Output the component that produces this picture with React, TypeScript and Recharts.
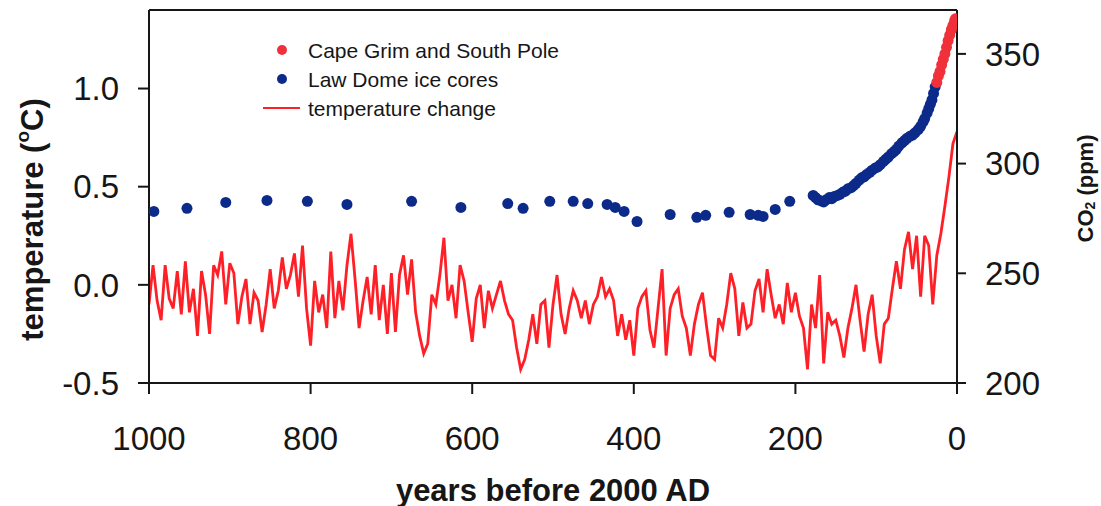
import React from "react";
import { ComposedChart, Line, Scatter, XAxis, YAxis, ReferenceLine, Legend, Label } from "recharts";

// temperature reconstruction, one value every 5 years from 1000 to 0 years before 2000 AD
const TEMP_START = 1000;
const TEMP_STEP = 5;
const tempValues = [
  -0.10, 0.10, -0.08, -0.18, 0.10, -0.07, -0.12, 0.07, -0.15, 0.12,
  -0.14, -0.02, -0.26, 0.07, -0.05, -0.25, 0.10, 0.05, 0.17, -0.10,
  0.11, 0.06, -0.20, -0.06, 0.03, -0.20, -0.04, -0.08, -0.24, -0.10,
  0.08, -0.12, -0.03, 0.14, -0.02, 0.05, 0.16, -0.06, 0.20, -0.12,
  -0.31, 0.02, -0.14, -0.05, -0.22, 0.17, -0.17, 0.02, -0.13, 0.10,
  0.26, 0.03, -0.22, -0.08, 0.04, -0.15, 0.10, -0.18, 0.00, -0.25,
  0.06, -0.24, 0.05, 0.15, -0.05, 0.13, -0.14, -0.26, -0.35, -0.30,
  -0.05, -0.10, 0.05, 0.24, -0.08, 0.00, -0.17, 0.10, 0.02, -0.14,
  -0.29, -0.07, 0.00, -0.22, -0.03, -0.12, -0.05, 0.02, -0.08, -0.15,
  -0.18, -0.32, -0.43, -0.38, -0.28, -0.15, -0.30, -0.10, -0.08, -0.32,
  -0.10, 0.05, -0.15, -0.25, -0.12, -0.03, -0.08, -0.17, -0.08, -0.20,
  -0.10, -0.06, 0.04, -0.06, -0.02, -0.08, -0.26, -0.15, -0.28, -0.18,
  -0.36, -0.12, -0.06, -0.03, -0.23, -0.32, -0.12, 0.08, -0.36, -0.12,
  -0.05, -0.02, -0.16, -0.22, -0.36, -0.20, -0.10, -0.04, -0.21, -0.36,
  -0.38, -0.17, -0.22, -0.10, 0.06, -0.02, -0.26, -0.09, -0.22, -0.20,
  -0.03, 0.03, -0.14, 0.08, -0.05, -0.17, -0.10, -0.20, 0.01, -0.14,
  -0.04, -0.16, -0.22, -0.43, -0.10, -0.22, 0.05, -0.40, -0.14, -0.20,
  -0.18, -0.26, -0.37, -0.22, -0.12, 0.00, -0.18, -0.34, -0.15, -0.05,
  -0.26, -0.40, -0.20, -0.17, -0.02, 0.12, -0.02, 0.18, 0.27, 0.08,
  0.25, -0.06, 0.25, 0.20, -0.10, 0.15, 0.26, 0.40, 0.55, 0.72,
  0.78,
];

// Law Dome ice cores
const lawDomeYears = [
  994, 953, 905, 854, 804, 755, 675, 614, 556, 537, 504, 475, 457, 433, 423, 412, 396,
  355, 322, 311, 282, 256, 246, 240, 225, 207,
  178, 175, 172, 168, 165, 162, 158, 155, 152, 148, 145, 141, 138, 135, 131, 128, 125,
  121, 118, 115, 112, 108, 105, 101, 98, 95, 91, 88, 85, 81, 78, 75, 72, 68, 65, 62,
  58, 55, 52, 48, 45, 42, 40, 37, 35, 33, 31, 29, 27,
];
const lawDomeCo2 = [
  278.2, 279.6, 282.3, 283.2, 282.8, 281.4, 282.8, 280.0, 281.8, 279.6, 282.8, 282.8, 281.8, 281.4, 280.0, 278.2, 273.6,
  276.8, 275.5, 276.4, 277.8, 276.8, 276.4, 275.9, 279.1, 282.8,
  285.5, 284.5, 283.5, 283, 282.5, 283.5, 284.5, 284, 285, 285.5, 286, 287, 287.5, 288.5, 289, 290, 291,
  292.5, 293.5, 294, 295, 296, 297, 298, 298.5, 299.5, 301, 302, 303, 304.5, 305.5, 306.5, 308, 309.5, 310.5, 311.5,
  312.5, 313, 314, 315.5, 317, 319, 320.5, 323, 325, 327, 329, 332, 335,
];

// Cape Grim and South Pole
const capeGrimYears = [25, 23, 21, 19, 17, 15, 13, 11, 9, 7, 5, 3, 2];
const capeGrimCo2 = [337, 340, 342, 345, 347.5, 350, 353, 356, 358.5, 361, 363, 365, 366];

const xTicks = [1000, 800, 600, 400, 200, 0];
const tempTicks = [-0.5, 0, 0.5, 1.0];
const co2Ticks = [200, 250, 300, 350];
const TEMP_MIN = -0.5;
const TEMP_MAX = 1.4;

const FONT = "'Liberation Sans', Arial, Helvetica, sans-serif";
const RED = "#ff1f26";
const DOT_RED = "#f0303a";
const BLUE = "#0c2a8a";
const INK = "#161616";

const tempData = tempValues.map((t, i) => ({ year: TEMP_START - i * TEMP_STEP, temp: t }));
const lawDomeData = lawDomeYears.map((y, i) => ({ year: y, co2: lawDomeCo2[i] }));
const capeGrimData = capeGrimYears.map((y, i) => ({ year: y, co2: capeGrimCo2[i] }));

const BlueDot = (p: any) => <circle cx={p.cx} cy={p.cy} r={5.5} fill={BLUE} />;
const RedDot = (p: any) => <circle cx={p.cx} cy={p.cy} r={5.5} fill={DOT_RED} />;

const LeftTitle = ({ viewBox }: any) => {
  const cx = viewBox.x + 32;
  const cy = viewBox.y + viewBox.height / 2 + 23;
  return (
    <text x={cx} y={cy} transform={`rotate(-90 ${cx} ${cy})`} textAnchor="middle" dominantBaseline="central"
      fontFamily={FONT} fontWeight="bold" fontSize={31} fill={INK}>
      temperature (<tspan dy={-10} fontSize={19}>o</tspan><tspan dy={10}>C)</tspan>
    </text>
  );
};

const RightTitle = ({ viewBox }: any) => {
  const cx = viewBox.x + viewBox.width - 16;
  const cy = viewBox.y + viewBox.height / 2 - 8;
  return (
    <text x={cx} y={cy} transform={`rotate(-90 ${cx} ${cy})`} textAnchor="middle" dominantBaseline="central"
      fontFamily={FONT} fontWeight="bold" fontSize={22} fill={INK}>
      CO<tspan dy={5} fontSize={14}>2</tspan><tspan dy={-5}> (ppm)</tspan>
    </text>
  );
};

const BottomTitle = ({ viewBox }: any) => {
  const cx = viewBox.x + viewBox.width / 2;
  const cy = viewBox.y + 107;
  return (
    <text x={cx} y={cy} textAnchor="middle" dominantBaseline="central"
      fontFamily={FONT} fontWeight="bold" fontSize={31} fill={INK}>
      years before 2000 AD
    </text>
  );
};

const legendItems = [
  { name: "Cape Grim and South Pole", kind: "dot", color: DOT_RED },
  { name: "Law Dome ice cores", kind: "dot", color: BLUE },
  { name: "temperature change", kind: "line", color: RED },
];

const ChartLegend = () => (
  <svg width={320} height={100}>
    {legendItems.map((item, i) => {
      const y = 22 + i * 29;
      return (
        <g key={item.name}>
          {item.kind === "dot" ? (
            <circle cx={27} cy={y} r={5} fill={item.color} />
          ) : (
            <line x1={8} x2={45} y1={y} y2={y} stroke={item.color} strokeWidth={2} />
          )}
          <text x={53} y={y} dominantBaseline="central" fontFamily={FONT} fontSize={21} fill={INK}>
            {item.name}
          </text>
        </g>
      );
    })}
  </svg>
);

const tickStyle = { fontSize: 33, fill: INK, fontFamily: FONT };
const axisLine = { stroke: INK, strokeWidth: 2 };

export default function App() {
  return (
    <div style={{ position: "absolute", left: 0, top: 0, background: "#fff" }}>
      <ComposedChart width={1101} height={506} margin={{ top: 10, right: 0, bottom: 0, left: 0 }}>
        <XAxis
          type="number"
          dataKey="year"
          domain={[0, 1000]}
          reversed
          ticks={xTicks}
          allowDataOverflow
          height={123}
          tick={tickStyle}
          tickSize={11}
          tickMargin={33}
          axisLine={axisLine}
          tickLine={axisLine}
        >
          <Label content={BottomTitle} />
        </XAxis>
        <YAxis
          yAxisId="temp"
          orientation="left"
          domain={[TEMP_MIN, TEMP_MAX]}
          ticks={tempTicks}
          allowDataOverflow
          width={149}
          tick={tickStyle}
          tickSize={11}
          tickMargin={19}
          tickFormatter={(v: number) => v.toFixed(1)}
          axisLine={axisLine}
          tickLine={axisLine}
        >
          <Label content={LeftTitle} />
        </YAxis>
        <YAxis
          yAxisId="co2"
          orientation="right"
          dataKey="co2"
          domain={[200, 370]}
          ticks={co2Ticks}
          allowDataOverflow
          width={144}
          tick={tickStyle}
          tickSize={9}
          tickMargin={19}
          axisLine={axisLine}
          tickLine={axisLine}
        >
          <Label content={RightTitle} />
        </YAxis>
        <ReferenceLine yAxisId="temp" y={TEMP_MAX} stroke={INK} strokeWidth={2} />
        <Line
          data={tempData}
          yAxisId="temp"
          dataKey="temp"
          type="linear"
          dot={false}
          stroke={RED}
          strokeWidth={2.8}
          isAnimationActive={false}
        />
        <Scatter data={lawDomeData} yAxisId="co2" dataKey="co2" shape={BlueDot} isAnimationActive={false} />
        <Scatter data={capeGrimData} yAxisId="co2" dataKey="co2" shape={RedDot} isAnimationActive={false} />
        <Legend
          layout="vertical"
          align="center"
          verticalAlign="middle"
          content={ChartLegend}
          wrapperStyle={{ left: 255, top: 28, width: 320, height: 100 }}
        />
      </ComposedChart>
    </div>
  );
}
